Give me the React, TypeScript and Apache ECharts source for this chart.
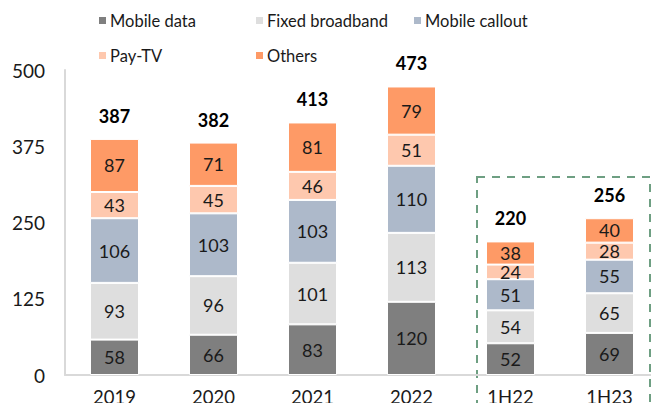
import React, { useEffect, useRef } from "react";
import * as echarts from "echarts";

const categories = ["2019", "2020", "2021", "2022", "1H22", "1H23"];
const mobileData = [58, 66, 83, 120, 52, 69];
const fixedBroadband = [93, 96, 101, 113, 54, 65];
const mobileCallout = [106, 103, 103, 110, 51, 55];
const payTV = [43, 45, 46, 51, 24, 28];
const others = [87, 71, 81, 79, 38, 40];
const totals = [387, 382, 413, 473, 220, 256];
const yTicks = [0, 125, 250, 375, 500];

const FONT = "Lato";

export default function App() {
  const ref = useRef<HTMLDivElement>(null);
  useEffect(() => {
    if (!ref.current) return;
    const chart = echarts.init(ref.current, null, { renderer: "svg" });
    const seg = (name: string, data: number[], color: string) => ({
      name,
      type: "bar",
      stack: "total",
      data,
      barWidth: 49,
      itemStyle: { color, borderColor: "#ffffff", borderWidth: 1 },
      label: {
        show: true,
        position: "inside",
        color: "#1a1a1a",
        fontSize: 18,
        fontFamily: FONT,
      },
    });
    const legendItem = (name: string, left: number, top: number) => ({
      data: [name],
      left,
      top,
      icon: "rect",
      itemWidth: 9,
      itemHeight: 9,
      itemGap: 4,
      textStyle: { fontSize: 16.5, fontFamily: FONT, color: "#1a1a1a", padding: [0, 0, 0, -2] },
    });
    chart.setOption({
      animation: false,
      legend: [
        legendItem("Mobile data", 92, 7),
        legendItem("Fixed broadband", 249, 7),
        legendItem("Mobile callout", 407, 7),
        legendItem("Pay-TV", 92, 42),
        legendItem("Others", 249, 42),
      ],
      grid: { left: 65, top: 70, width: 600, bottom: 36, containLabel: false },
      xAxis: {
        type: "category",
        data: categories,
        axisLine: { lineStyle: { color: "#d9d9d9", width: 2 } },
        axisTick: { show: false },
        axisLabel: { fontSize: 18.5, fontFamily: FONT, color: "#1a1a1a", margin: 12 },
      },
      yAxis: {
        type: "value",
        min: yTicks[0],
        max: yTicks[yTicks.length - 1],
        interval: 125,
        axisLine: { show: true, lineStyle: { color: "#d9d9d9", width: 2 } },
        axisTick: { show: false },
        splitLine: { show: false },
        axisLabel: { fontSize: 19, fontFamily: FONT, color: "#1a1a1a", margin: 20 },
      },
      series: [
        seg("Mobile data", mobileData, "#7f7f7f"),
        seg("Fixed broadband", fixedBroadband, "#dedede"),
        seg("Mobile callout", mobileCallout, "#adb9ca"),
        seg("Pay-TV", payTV, "#fec8ae"),
        seg("Others", others, "#fe9a66"),
        {
          name: "Total",
          type: "bar",
          stack: "total",
          barWidth: 49,
          data: totals.map(() => 0),
          itemStyle: { color: "transparent" },
          label: {
            show: true,
            position: "top",
            distance: 14,
            formatter: (p: any) => String(totals[p.dataIndex]),
            fontSize: 18,
            fontWeight: "bold",
            fontFamily: FONT,
            color: "#000000",
          },
        },
      ],
      graphic: [
        {
          type: "rect",
          shape: { x: 477, y: 177, width: 173, height: 250 },
          style: { fill: "none", stroke: "#6e9f82", lineWidth: 2, lineDash: [8, 7] },
          silent: true,
        },
      ],
    });
    return () => chart.dispose();
  }, []);
  return <div ref={ref} style={{ width: 659, height: 411, margin: -8 }} />;
}
